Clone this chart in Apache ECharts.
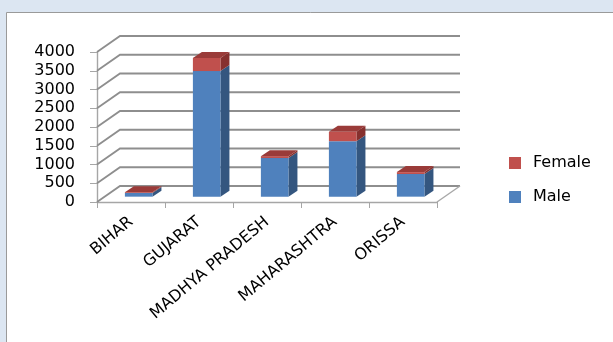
<!DOCTYPE html>
<html><head><meta charset="utf-8">
<script src="https://cdn.jsdelivr.net/npm/echarts@6/dist/echarts.min.js"></script>
<style>html,body{margin:0;padding:0;background:#dce6f2;}#c{width:613px;height:342px;}</style>
</head><body><div id="c"></div>
<script>
const categories = ['BIHAR', 'GUJARAT', 'MADHYA PRADESH', 'MAHARASHTRA', 'ORISSA'];
const male = [100, 3350, 1030, 1480, 605];
const female = [20, 350, 50, 250, 50];
const yTicks = [0, 500, 1000, 1500, 2000, 2500, 3000, 3500, 4000];
const seriesNames = ['Male', 'Female'];

const DX = 23, DY = -16;          // depth of the 3D floor
const BX = 9, BY = -6;            // depth of each bar
const FX = DX / 3, FY = DY / 3;   // bar front offset from front plane
const FONT = 'DejaVu Sans';

function wallRender(params, api) {
  const v = api.value(0);
  const cs = params.coordSys;
  const left = cs.x, right = cs.x + cs.width;
  const y = api.coord([0, v])[1];
  const pts = [[left, y], [left + DX, y + DY], [right + DX, y + DY]];
  const children = [{
    type: 'polyline', shape: { points: pts },
    style: { stroke: '#8e8e8e', lineWidth: 1.8, fill: null }
  }];
  if (v === 0) {
    children.push({
      type: 'polyline', shape: { points: [[right, y], [right + DX, y + DY]] },
      style: { stroke: '#a8a8a8', lineWidth: 1.5, fill: null }
    });
  }
  return { type: 'group', children };
}

function barRender(front, top, side, drawTop) {
  return function (params, api) {
    const i = api.value(0), lo = api.value(1), hi = api.value(2);
    const c = api.coord([i, lo]);
    const t = api.coord([i, hi]);
    const band = api.size([1, 0])[0];
    const w = band * 0.405;
    const x0 = c[0] - w / 2 + FX, x1 = c[0] + w / 2 + FX;
    const yb = c[1] + FY, yt = t[1] + FY;
    const children = [
      { type: 'polygon', shape: { points: [[x1, yt], [x1 + BX, yt + BY], [x1 + BX, yb + BY], [x1, yb]] },
        style: { fill: side } },
      { type: 'rect', shape: { x: x0, y: yt, width: x1 - x0, height: yb - yt }, style: { fill: front } }
    ];
    if (drawTop) {
      children.push({ type: 'polygon', shape: { points: [[x0, yt], [x0 + BX, yt + BY], [x1 + BX, yt + BY], [x1, yt]] },
        style: { fill: top } });
    }
    return { type: 'group', children };
  };
}

const chart = echarts.init(document.getElementById('c'));
chart.setOption({
  backgroundColor: '#dce6f2',
  animation: false,
  graphic: [{
    type: 'rect', z: -10, silent: true,
    shape: { x: 6.5, y: 12.5, width: 640, height: 360 },
    style: { fill: '#ffffff', stroke: '#9a9a9a', lineWidth: 1 }
  }],
  grid: { left: 97, top: 52, width: 340, height: 150 },
  legend: {
    orient: 'vertical', left: 509, top: 155, padding: 0,
    data: ['Female', 'Male'],
    icon: 'rect', itemWidth: 12, itemHeight: 12, itemGap: 18,
    textStyle: { fontFamily: FONT, fontSize: 16, color: '#000', padding: [0, 0, 0, 7] }
  },
  xAxis: {
    type: 'category', data: categories,
    axisLine: { lineStyle: { color: '#a6a6a6', width: 1.4 } },
    axisTick: { show: true, length: 6, lineStyle: { color: '#a6a6a6' } },
    axisLabel: { rotate: 40, margin: 18, fontFamily: FONT, fontSize: 16, color: '#000', interval: 0 }
  },
  yAxis: {
    type: 'value', min: 0, max: 4000, interval: 500,
    axisLine: { show: true, lineStyle: { color: '#a6a6a6', width: 1.4 } },
    axisTick: { show: true, length: 7, lineStyle: { color: '#a6a6a6' } },
    splitLine: { show: false },
    axisLabel: { margin: 22, fontFamily: FONT, fontSize: 16, color: '#000', formatter: v => String(v) }
  },
  series: [
    { type: 'custom', name: 'walls', z: 1, silent: true, data: yTicks.map(v => [v]),
      renderItem: wallRender, legendHoverLink: false },
    { type: 'custom', name: seriesNames[0], z: 2, itemStyle: { color: '#4f81bd' },
      data: male.map((v, i) => [i, 0, v]),
      renderItem: barRender('#4f81bd', '#40699b', '#34567f', false) },
    { type: 'custom', name: seriesNames[1], z: 3, itemStyle: { color: '#c0504d' },
      data: female.map((v, i) => [i, male[i], male[i] + v]),
      renderItem: barRender('#c0504d', '#9a3b39', '#86302e', true) }
  ]
});
</script></body></html>
